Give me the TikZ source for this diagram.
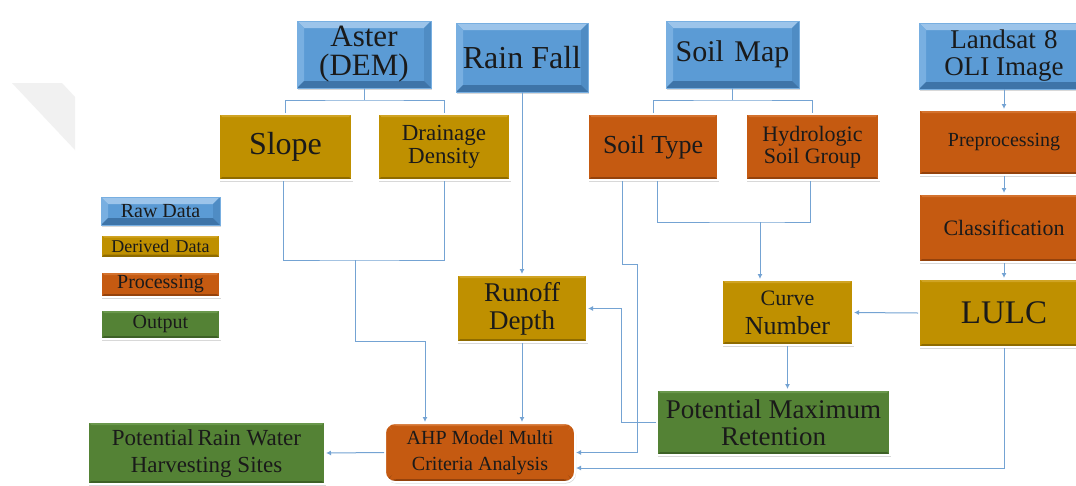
\documentclass[tikz,border=0pt]{standalone}
\usepackage{fontspec}
\setmainfont{Liberation Serif}
\usetikzlibrary{arrows.meta,shadows}
\definecolor{rawmain}{HTML}{5B9BD5}
\definecolor{rawtop}{HTML}{9CC4EA}
\definecolor{rawleft}{HTML}{78AFE1}
\definecolor{rawright}{HTML}{4F8CC4}
\definecolor{rawbot}{HTML}{3E74A8}
\definecolor{dermain}{HTML}{BF9000}
\definecolor{dertop}{HTML}{D0A424}
\definecolor{derbot}{HTML}{8E6B00}
\definecolor{promain}{HTML}{C55A11}
\definecolor{protop}{HTML}{D4722E}
\definecolor{probot}{HTML}{94420C}
\definecolor{outmain}{HTML}{548235}
\definecolor{outtop}{HTML}{6A984C}
\definecolor{outbot}{HTML}{3D6126}
\definecolor{conn}{HTML}{74A3D3}
\definecolor{txt}{HTML}{1A1A1A}
\definecolor{wm}{HTML}{F1F1F1}
\newcommand\bevelpp[5]{%
 \fill[#2] (path picture bounding box.north west) -- (path picture bounding box.north east) -- ([shift={(-#1,-#1)}]path picture bounding box.north east) -- ([shift={(#1,-#1)}]path picture bounding box.north west) -- cycle;
 \fill[#3] (path picture bounding box.north west) -- (path picture bounding box.south west) -- ([shift={(#1,#1)}]path picture bounding box.south west) -- ([shift={(#1,-#1)}]path picture bounding box.north west) -- cycle;
 \fill[#4] (path picture bounding box.north east) -- (path picture bounding box.south east) -- ([shift={(-#1,#1)}]path picture bounding box.south east) -- ([shift={(-#1,-#1)}]path picture bounding box.north east) -- cycle;
 \fill[#5] (path picture bounding box.south west) -- (path picture bounding box.south east) -- ([shift={(-#1,#1)}]path picture bounding box.south east) -- ([shift={(#1,#1)}]path picture bounding box.south west) -- cycle;
}
\tikzset{
 boxbase/.style={rectangle, draw=white, line width=2pt, text=txt, align=center, inner sep=0pt,
   drop shadow={opacity=0.3, shadow xshift=1pt, shadow yshift=-1.5pt}},
 rawbox/.style={boxbase, draw=rawleft, line width=0.6pt, fill=rawmain, path picture={\bevelpp{7pt}{rawtop}{rawleft}{rawright}{rawbot}}},
 derbox/.style={boxbase, fill=dermain, path picture={\bevelpp{3pt}{dertop}{dermain}{dermain}{derbot}}},
 probox/.style={boxbase, fill=promain, path picture={\bevelpp{3pt}{protop}{promain}{promain}{probot}}},
 outbox/.style={boxbase, fill=outmain, path picture={\bevelpp{3pt}{outtop}{outmain}{outmain}{outbot}}},
 conline/.style={draw=conn, line width=1pt},
 conarrow/.style={conline, -{Latex[length=5pt,width=5pt]}},
 sz/.style 2 args={minimum width=#1pt, minimum height=#2pt},
 fs/.style 2 args={font=\fontsize{#1}{#2}\selectfont},
}
\begin{document}
\begin{tikzpicture}[x=1pt,y=-1pt]
\path[use as bounding box, clip] (0,0) rectangle (1076,485);
\fill[white] (0,0) rectangle (1076,485);
\fill[wm] (12,83) -- (62,83) -- (75,97) -- (75,150) -- cycle;

% raw data
\node[rawbox, sz={134}{67}, fs={31}{29}] (aster) at (364,54.5) {Aster\\(DEM)};
\node[rawbox, sz={132}{69}, fs={32}{32}] (rain) at (522,57.5) {Rain Fall};
\node[rawbox, sz={133}{67}, fs={30}{30}] (soilmap) at (732.5,54.5) {Soil\hspace{0.35em}Map};
\node[rawbox, sz={170}{66}, fs={27}{27}] (landsat) at (1004,56) {Landsat\hspace{0.3em}8\\OLI Image};

% derived / processing row
\node[derbox, sz={133}{66}, fs={32}{32}] (slope) at (285.5,147) {Slope};
\node[derbox, sz={132}{66}, fs={23}{23}] (drain) at (444,147) {Drainage\\Density};
\node[probox, sz={130}{66}, fs={26}{26}] (soiltype) at (653,147) {Soil Type};
\node[probox, sz={133}{66}, fs={22}{22}] (hydro) at (812.5,147) {Hydrologic\\Soil Group};
\node[probox, sz={170}{65}, fs={20}{20}] (preproc) at (1004,142.5) {Preprocessing};
\node[probox, sz={170}{68}, fs={22}{22}] (classif) at (1004,228) {Classification};
\node[derbox, sz={170}{68}, fs={33}{33}] (lulc) at (1004,313) {LULC};
\node[derbox, sz={131}{65}, fs={26}{26}] (curve) at (787.5,312.5) {{\fontsize{22}{26}\selectfont Curve}\\[3pt]Number};
\node[derbox, sz={130}{67}, fs={27}{28}] (runoff) at (522,308.5) {Runoff\\Depth};
\node[outbox, sz={233}{65}, fs={27}{27}] (pmr) at (773.5,422.5) {Potential Maximum\\Retention};
\node[probox, rounded corners=10pt, sz={190}{59}, fs={20}{26}] (ahp) at (480,452.5) {AHP Model Multi\\Criteria Analysis};
\node[outbox, sz={237}{62}, fs={23}{27}] (prwhs) at (206.5,453) {Potential\,Rain Water\\Harvesting Sites};

% legend
\node[rawbox, sz={119}{28}, fs={20}{20}] (lraw) at (160.5,211) {Raw Data};
\node[derbox, sz={119}{23}, fs={18}{18}] (lder) at (160.5,246) {Derived\hspace{0.35em}Data};
\node[probox, sz={119}{25}, fs={20}{20}] (lpro) at (160.5,284.5) {Processing};
\node[outbox, sz={119}{29}, fs={20}{20}] (lout) at (160.5,324.5) {Output};

% connectors
\coordinate (a1) at (364,100);
\draw[conline] (aster.south) -- (a1);
\draw[conline] (slope.north) |- (a1) -| (drain.north);
\coordinate (s1) at (732.5,100);
\draw[conline] (soilmap.south) -- (s1);
\draw[conline] (soiltype.north) |- (s1) -| (hydro.north);

\draw[conarrow] (landsat.south) -- (preproc.north);
\draw[conarrow] (preproc.south) -- (classif.north);
\draw[conarrow] (classif.south) -- (lulc.north);

\draw[conarrow] (rain.south) -- (runoff.north);
\draw[conarrow] (runoff.south) -- (runoff.south |- ahp.north);

\coordinate (sd) at (355,260);
\coordinate (sd2) at (425,341);
\draw[conline] ([xshift=-2pt]slope.south) |- (sd) -| (drain.south);
\draw[conarrow] (sd) |- (sd2) -- (sd2 |- ahp.north);

\draw[conarrow] ([xshift=-31pt]soiltype.south) -- ++(0,83) -- ++(15,0) |- (ahp.east);
\coordinate (sh) at (760,222);
\draw[conline] ([xshift=4pt]soiltype.south) |- (sh) -| ([xshift=-2pt]hydro.south);
\draw[conarrow] (sh) -- (sh |- curve.north);

\draw[conarrow] (lulc.west) -- (curve.east);
\draw[conarrow] (curve.south) -- (curve.south |- pmr.north);
\draw[conarrow] (pmr.west) -- ++(-35,0) |- (runoff.east);
\draw[conarrow] (lulc.south) |- ([yshift=-15.5pt]ahp.east);
\draw[conarrow] (ahp.west) -- (prwhs.east);
\end{tikzpicture}
\end{document}
